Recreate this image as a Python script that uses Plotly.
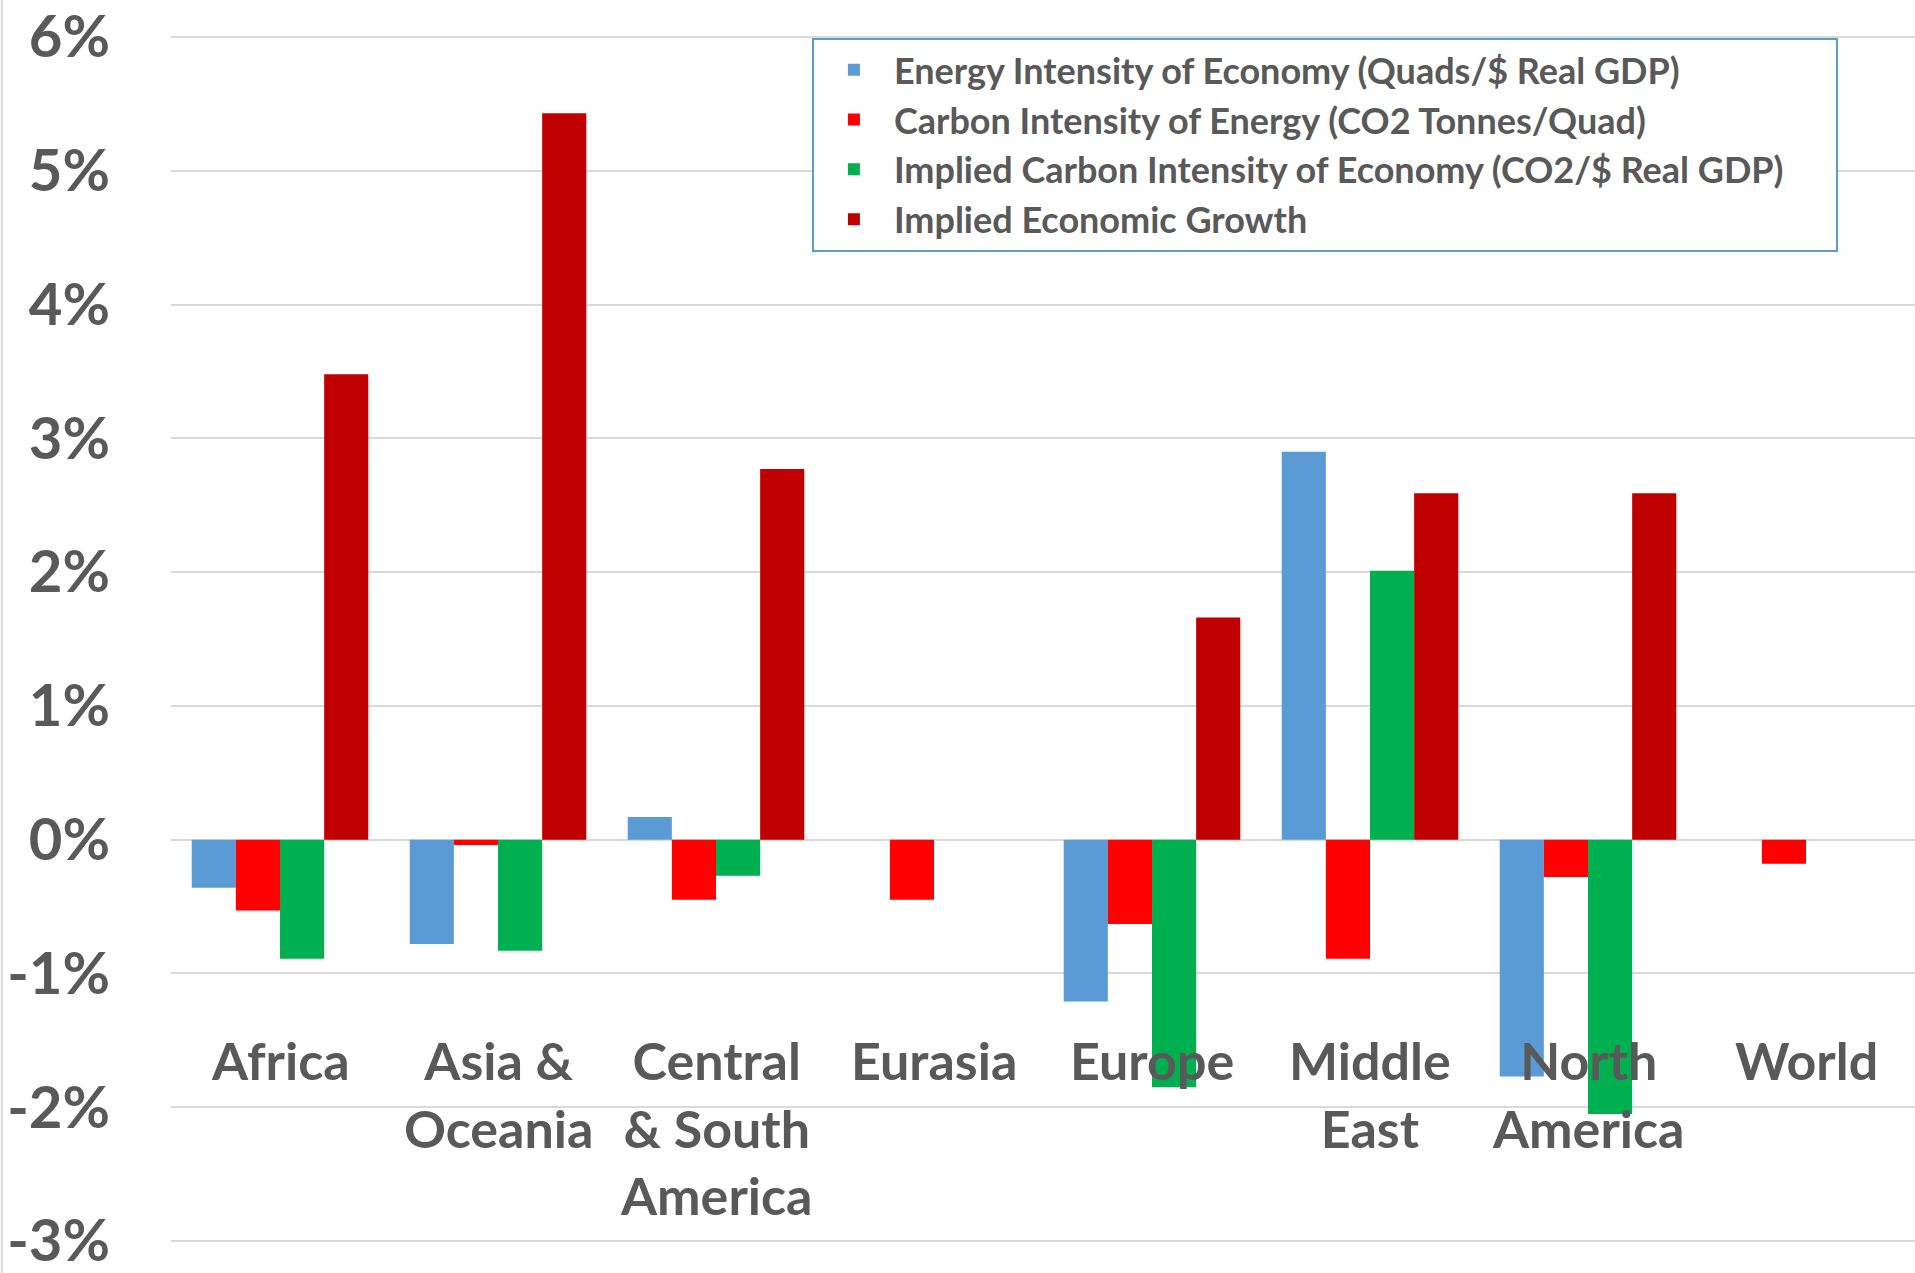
import plotly.graph_objects as go

categories = ["Africa", "Asia & Oceania", "Central & South America", "Eurasia",
              "Europe", "Middle East", "North America", "World"]
category_labels = ["Africa", "Asia &<br>Oceania", "Central<br>& South<br>America", "Eurasia",
                   "Europe", "Middle<br>East", "North<br>America", "World"]

energy_intensity = [-0.36, -0.78, 0.17, None, -1.21, 2.90, -1.77, None]
carbon_intensity = [-0.53, -0.04, -0.45, -0.45, -0.63, -0.89, -0.28, -0.18]
implied_carbon = [-0.89, -0.83, -0.27, None, -1.85, 2.01, -2.05, None]
implied_growth = [3.48, 5.43, 2.77, None, 1.66, 2.59, 2.59, None]

series_names = ["Energy Intensity of Economy (Quads/$ Real GDP)",
                "Carbon Intensity of Energy (CO2 Tonnes/Quad)",
                "Implied Carbon Intensity of Economy (CO2/$ Real GDP)",
                "Implied Economic Growth"]
series_colors = ["#5B9BD5", "#FF0000", "#00B050", "#C00000"]

y_tickvals = [-3, -2, -1, 0, 1, 2, 3, 4, 5, 6]
y_ticktext = ["-3%", "-2%", "-1%", "0%", "1%", "2%", "3%", "4%", "5%", "6%"]

FONT = "Lato"
GRAY = "#595959"

fig = go.Figure()
for name, vals, col in zip(series_names,
                           [energy_intensity, carbon_intensity, implied_carbon, implied_growth],
                           series_colors):
    fig.add_trace(go.Bar(x=categories, y=vals, name=name, marker_color=col,
                         marker_line_width=0))

for cat, lab in zip(categories, category_labels):
    fig.add_annotation(x=cat, y=-1.4, xref="x", yref="y", text=lab, showarrow=False,
                       yanchor="top", xanchor="center",
                       font=dict(family=FONT, size=52, color=GRAY, weight="bold"))

fig.add_shape(type="line", xref="paper", yref="paper", x0=-0.097, x1=-0.097, y0=-0.03, y1=1.03,
              line=dict(color="#D9D9D9", width=2))

fig.update_layout(
    width=1915, height=1273,
    margin=dict(l=171, r=0, t=33, b=20),
    paper_bgcolor="white", plot_bgcolor="white",
    barmode="group", bargap=0.19, bargroupgap=0,
    showlegend=True,
    legend=dict(orientation="h", x=0.3675, y=0.996, xanchor="left", yanchor="top",
                bgcolor="white", bordercolor="#5B9BD5", borderwidth=2,
                font=dict(family=FONT, size=36, color=GRAY, weight="bold"),
                traceorder="normal", itemsizing="constant", tracegroupgap=0,
                itemwidth=70, entrywidth=937, entrywidthmode="pixels"),
    xaxis=dict(showticklabels=False, showgrid=False, zeroline=False, showline=False),
    yaxis=dict(range=[-3.03, 6.03], tickvals=y_tickvals, ticktext=y_ticktext,
               showgrid=True, gridcolor="#D9D9D9", gridwidth=2,
               zeroline=True, zerolinecolor="#D9D9D9", zerolinewidth=2,
               showline=False, ticks="", ticklabelstandoff=60,
               ticklabeloverflow="allow",
               tickfont=dict(family=FONT, size=58, color=GRAY, weight="bold")),
)

fig.write_html("out.html")
